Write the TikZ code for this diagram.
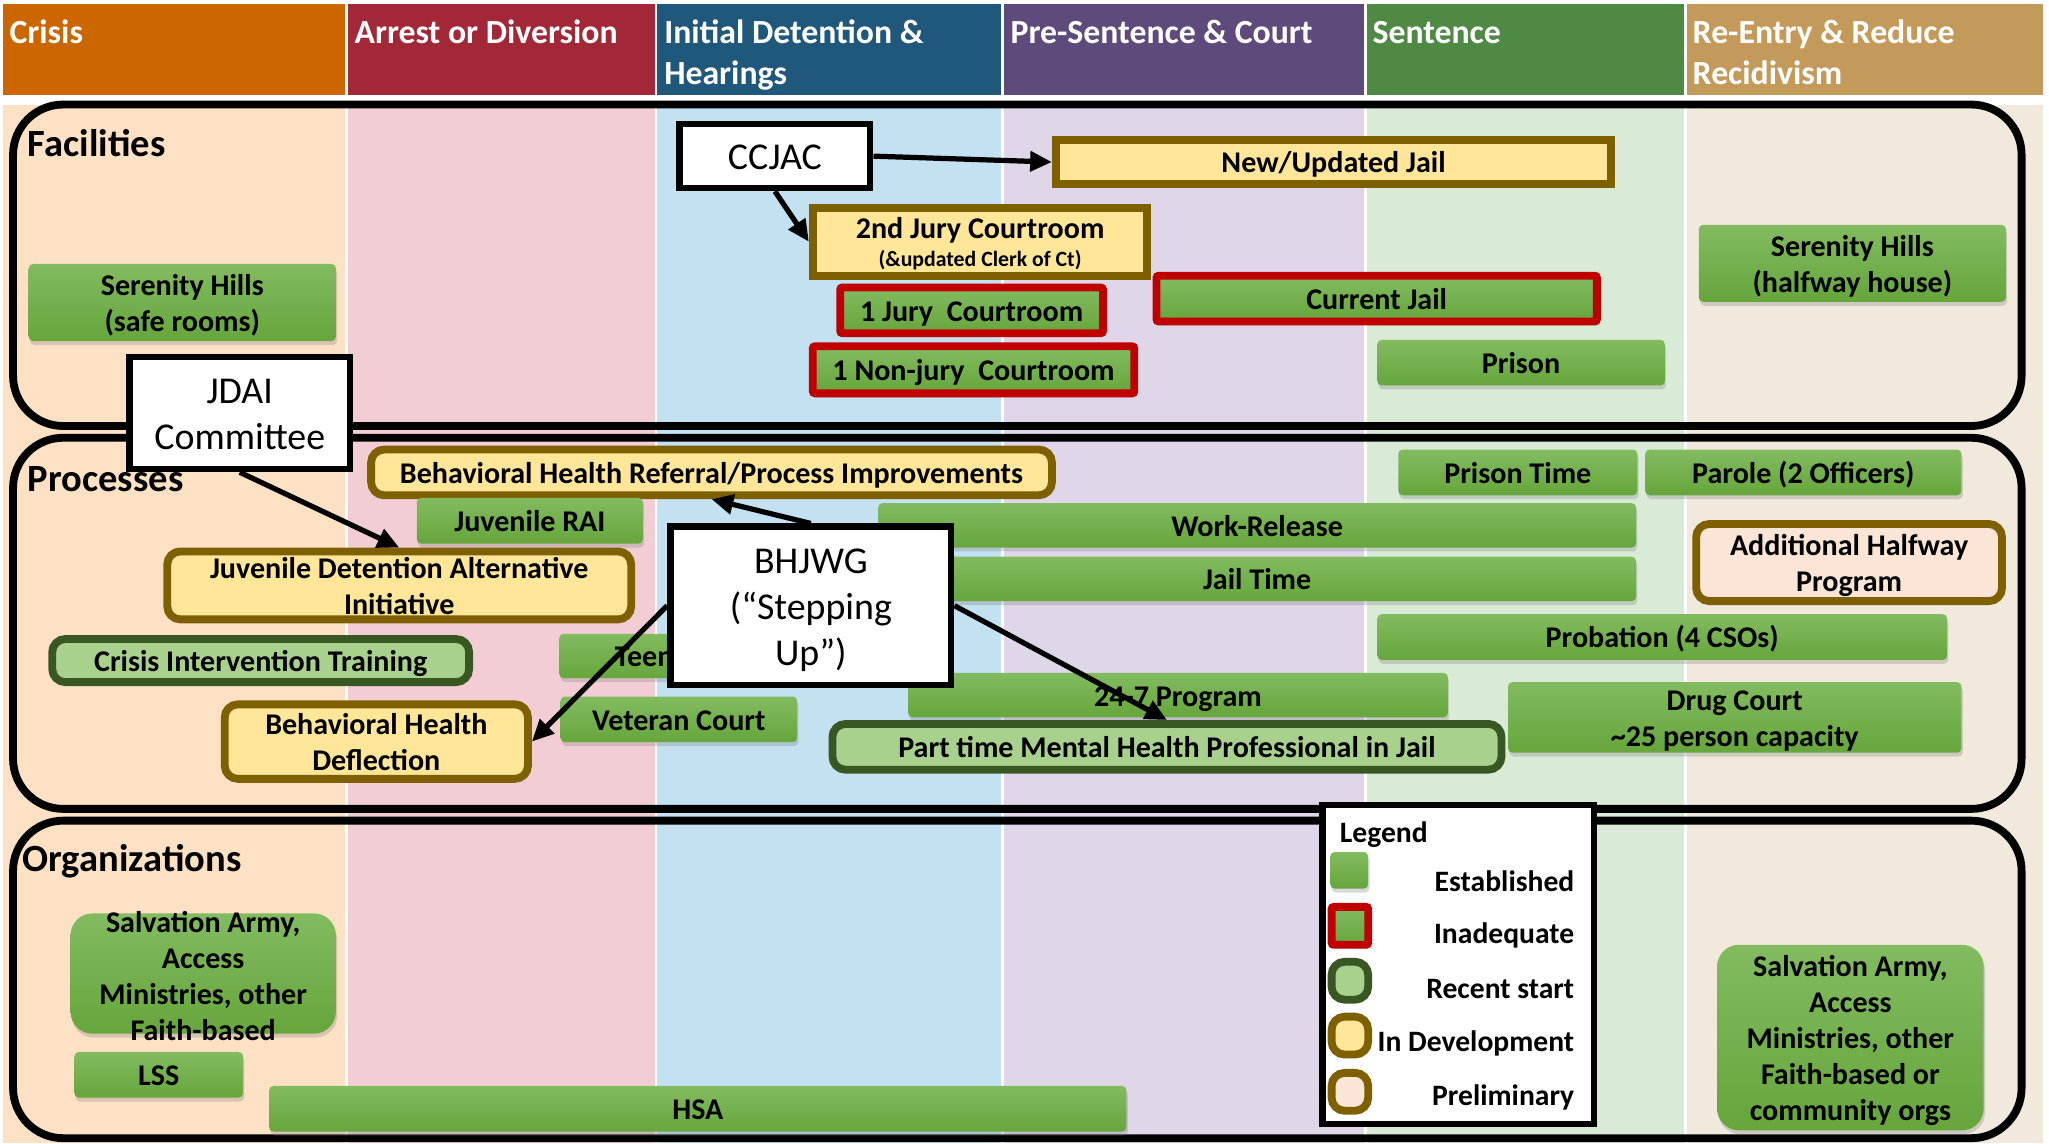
\documentclass[tikz,border=0pt]{standalone}
\usepackage{fontspec}
\setmainfont{Carlito}
\usetikzlibrary{arrows.meta,shadows}
\definecolor{hCrisis}{RGB}{204,102,0}
\definecolor{hArrest}{RGB}{162,40,56}
\definecolor{hInit}{RGB}{31,88,122}
\definecolor{hPre}{RGB}{95,75,123}
\definecolor{hSent}{RGB}{79,138,69}
\definecolor{hRe}{RGB}{196,154,90}
\definecolor{bCrisis}{RGB}{253,225,196}
\definecolor{bArrest}{RGB}{242,206,212}
\definecolor{bInit}{RGB}{196,225,242}
\definecolor{bPre}{RGB}{223,215,233}
\definecolor{bSent}{RGB}{217,235,215}
\definecolor{bRe}{RGB}{241,233,220}
\definecolor{grtop}{RGB}{130,187,96}
\definecolor{grbot}{RGB}{102,166,60}
\definecolor{redb}{RGB}{192,0,0}
\definecolor{brownb}{RGB}{127,96,0}
\definecolor{dkgreen}{RGB}{56,87,35}
\definecolor{ltgreen}{RGB}{169,209,142}
\definecolor{yell}{RGB}{255,230,153}
\definecolor{peach}{RGB}{251,229,214}
\newcommand\hdfont{\fontsize{15.5}{18.8}\selectfont\bfseries}
\newcommand\bxfont{\fontsize{13.8}{16.5}\selectfont\bfseries}
\newcommand\ttlfont{\fontsize{17.7}{21}\selectfont\bfseries}
\newcommand\wbfont{\fontsize{17.4}{21}\selectfont}
\newcommand\lgfont{\fontsize{13.6}{16}\selectfont\bfseries}
\newcommand\smfont{\fontsize{10}{12}\selectfont\bfseries}
% one line of box text: fixed height, no depth, so caps centre in the box
\newcommand\lnx[1]{\raisebox{0pt}[0.72em][0pt]{#1}}
\newcommand{\bx}[7]{%
 \pgfmathsetmacro{\bxcx}{(#3+#5)/2}%
 \pgfmathsetmacro{\bxcy}{(#4+#6)/2}%
 \pgfmathsetmacro{\bxw}{(#5-#3)*0.6}%
 \pgfmathsetmacro{\bxh}{(#6-#4)*0.6}%
 \node[#1, minimum width=\bxw pt, minimum height=\bxh pt] (#2) at (\bxcx,\bxcy) {#7};}
\newcommand{\bxb}[7]{%
 \pgfmathsetmacro{\bxcx}{(#3+#5)/2}%
 \pgfmathsetmacro{\bxcy}{(#4+#6)/2}%
 \pgfmathsetmacro{\bxw}{(#5-#3-6)*0.6}%
 \pgfmathsetmacro{\bxh}{(#6-#4-6)*0.6}%
 \node[#1, minimum width=\bxw pt, minimum height=\bxh pt] (#2) at (\bxcx,\bxcy) {#7};}
\begin{document}
\begin{tikzpicture}[x=0.6pt,y=-0.6pt,
  bxbase/.style={inner sep=0pt, align=center, font=\bxfont, text=black},
  shad/.style={drop shadow={opacity=0.3, shadow xshift=0.6pt, shadow yshift=-1.8pt}},
  est/.style={bxbase, rounded corners=2pt, top color=grtop, bottom color=grbot, shad},
  estr/.style={est, rounded corners=10pt},
  inad/.style={bxbase, rounded corners=1pt, top color=grtop, bottom color=grbot, draw=redb, line width=3.6pt, shad},
  recent/.style={bxbase, rounded corners=6pt, fill=ltgreen, draw=dkgreen, line width=3.6pt},
  indev/.style={bxbase, fill=yell, draw=brownb, line width=3.6pt},
  indevr/.style={indev, rounded corners=6pt},
  prelim/.style={bxbase, fill=peach, draw=brownb, line width=3.6pt, rounded corners=6pt},
  wbox/.style={bxbase, fill=white, draw=black, line width=2.9pt, font=\wbfont},
  secframe/.style={draw=black, line width=3.6pt, rounded corners=23pt},
  hdtext/.style={inner sep=0pt, text=white, font=\hdfont, align=left},
  ttl/.style={inner sep=0pt, font=\ttlfont, anchor=base west},
  lgtext/.style={inner sep=0pt, font=\lgfont, anchor=base east},
  arr/.style={draw=black, line width=2.4pt, -{Triangle[length=10pt,width=9pt]}}]
\useasboundingbox (0,0) rectangle (1568,875);
\fill[white] (0,0) rectangle (1568,875);
% headers
\fill[hCrisis] (2,3) rectangle (264,73);
\fill[hArrest] (266,3) rectangle (501,73);
\fill[hInit] (503,3) rectangle (766,73);
\fill[hPre] (768,3) rectangle (1044,73);
\fill[hSent] (1046,3) rectangle (1289,73);
\fill[hRe] (1291,3) rectangle (1563,73);
% column backgrounds
\fill[bCrisis] (2,80) rectangle (264,875);
\fill[bArrest] (266,80) rectangle (501,875);
\fill[bInit] (503,80) rectangle (766,875);
\fill[bPre] (768,80) rectangle (1044,875);
\fill[bSent] (1046,80) rectangle (1289,875);
\fill[bRe] (1291,80) rectangle (1563,875);
% header texts
\node[hdtext, anchor=base west] (h1) at (7,33) {Crisis};
\node[hdtext, anchor=base west] (h2) at (271,33) {Arrest or Diversion};
\node[hdtext, anchor=west] (h3) at (508,42) {Initial Detention \&\\Hearings};
\node[hdtext, anchor=base west] (h4) at (773,33) {Pre-Sentence \& Court};
\node[hdtext, anchor=base west] (h5) at (1050,33) {Sentence};
\node[hdtext, anchor=west] (h6) at (1295,40) {Re-Entry \& Reduce\\Recidivism};
% section frames
\draw[secframe] (10,80) rectangle (1547,326);
\draw[secframe] (10,335) rectangle (1547,619);
\draw[secframe] (10,628) rectangle (1547,871);
\node[ttl] (tf) at (21,120) {Facilities};
\node[ttl] (tp) at (21,376) {Processes};
\node[ttl] (to) at (17,667) {Organizations};
% facilities
\bxb{indev}{newjail}{805}{104}{1236}{144}{\lnx{New/Updated Jail}}
\bxb{indev}{jury2}{619}{156}{881}{214}{\lnx{2nd Jury Courtroom}\\[-3.7pt]{\smfont\lnx{(\&updated Clerk of Ct)}}}
\bxb{inad}{jury1}{640}{217}{847}{258}{\lnx{1 Jury~~Courtroom}}
\bxb{inad}{nonjury}{619}{262}{871}{304}{\lnx{1 Non-jury~~Courtroom}}
\bxb{inad}{curjail}{882}{208}{1225}{249}{\lnx{Current Jail}}
\bx{est}{prison}{1054}{260}{1274}{295}{\lnx{Prison}}
\bx{est}{shsafe}{22}{202}{257}{261}{\lnx{Serenity Hills}\\\lnx{(safe rooms)}}
\bx{est}{shhalf}{1300}{172}{1535}{231}{\lnx{Serenity Hills}\\\lnx{(halfway house)}}
\bx{wbox}{ccjac}{520}{95}{666}{144}{\lnx{CCJAC}}
% processes
\bxb{indevr}{bhref}{281}{341}{808}{382}{\lnx{Behavioral Health Referral/Process Improvements}}
\bx{est}{juvrai}{319}{381}{492}{416}{\lnx{Juvenile RAI}}
\bxb{indevr}{jdaii}{125}{419}{486}{477}{\lnx{Juvenile Detention Alternative}\\\lnx{Initiative}}
\bxb{recent}{cit}{37}{486}{362}{525}{\lnx{Crisis Intervention Training}}
\bx{est}{teen}{428}{485}{616}{519}{\lnx{Teen Court}}
\bx{est}{vet}{429}{533}{610}{568}{\lnx{Veteran Court}}
\bxb{indevr}{bhdef}{169}{536}{407}{599}{\lnx{Behavioral Health}\\\lnx{Deflection}}
\bx{est}{work}{672}{385}{1252}{419}{\lnx{Work-Release}}
\bx{est}{jail}{672}{426}{1252}{460}{\lnx{Jail Time}}
\bx{est}{p247}{695}{515}{1108}{549}{\lnx{24-7 Program}}
\bxb{recent}{ptmh}{634}{551}{1152}{592}{\lnx{Part time Mental Health Professional in Jail}}
\bx{est}{ptime}{1070}{344}{1253}{379}{\lnx{Prison Time}}
\bx{est}{parole}{1259}{344}{1501}{379}{\lnx{Parole (2 Officers)}}
\bxb{prelim}{ahp}{1295}{398}{1535}{463}{\lnx{Additional Halfway}\\\lnx{Program}}
\bx{est}{prob}{1054}{470}{1490}{505}{\lnx{Probation (4 CSOs)}}
\bx{est}{drug}{1154}{522}{1501}{576}{\lnx{Drug Court}\\\lnx{\textasciitilde25 person capacity}}
\bx{wbox}{jdai}{99}{273}{268}{359}{\lnx{JDAI}\\\lnx{Committee}}
\bx{wbox}{bhjwg}{513}{403}{728}{524}{\lnx{BHJWG}\\\lnx{(“Stepping}\\\lnx{Up”)}}
% organizations
\bx{estr}{salvL}{54}{699}{257}{791}{}
\node[bxbase] (salvLt) at (155.5,746.5) {\lnx{Salvation Army,}\\\lnx{Access}\\\lnx{Ministries, other}\\\lnx{Faith-based}};
\bx{est}{lss}{57}{805}{186}{840}{\lnx{LSS}}
\bx{est}{hsa}{206}{831}{862}{866}{\lnx{HSA}}
\bx{estr}{salvR}{1314}{723}{1518}{865}{\lnx{Salvation Army,}\\\lnx{Access}\\\lnx{Ministries, other}\\\lnx{Faith-based or}\\\lnx{community orgs}}
% legend
\bx{wbox}{legend}{1012}{616}{1220}{860}{}
\node[inner sep=0pt, font=\lgfont, anchor=base west] (lgt) at (1025,645) {Legend};
\bx{est}{swE}{1018}{652}{1047}{680}{}
\bxb{inad}{swI}{1016}{691}{1050}{726}{}
\bxb{recent}{swR}{1016}{733}{1050}{768}{}
\bxb{indevr}{swD}{1016}{775}{1050}{810}{}
\bxb{prelim}{swP}{1016}{818}{1050}{853}{}
\node[lgtext] (lE) at (1205,682) {Established};
\node[lgtext] (lI) at (1205,722) {Inadequate};
\node[lgtext] (lR) at (1205,764) {Recent start};
\node[lgtext] (lD) at (1205,805) {In Development};
\node[lgtext] (lP) at (1205,846) {Preliminary};
% arrows
\draw[arr] (ccjac.east) -- (newjail.west);
\draw[arr] (ccjac.south) -- (jury2.west);
\draw[arr] (jdai.south) -- (jdaii.north);
\draw[arr] (bhjwg.north) -- (bhref.south);
\draw[arr] (bhjwg.west) -- (bhdef.east);
\draw[arr] (bhjwg.east) -- (ptmh.north);
\end{tikzpicture}
\end{document}
